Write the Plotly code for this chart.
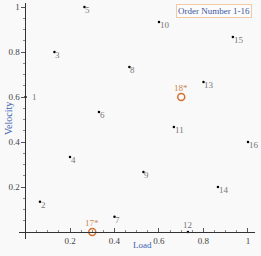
import plotly.graph_objects as go

order = ["1","2","3","4","5","6","7","8","9","10","11","12","13","14","15","16"]
load = [0.0, 0.065, 0.13, 0.2, 0.265, 0.33, 0.40, 0.467, 0.53, 0.60, 0.667, 0.73, 0.80, 0.865, 0.932, 1.0]
velocity = [0.6, 0.135, 0.80, 0.333, 1.0, 0.533, 0.068, 0.733, 0.267, 0.933, 0.467, 0.0, 0.667, 0.20, 0.867, 0.40]

extra_labels = ["17*", "18*"]
extra_load = [0.3, 0.7]
extra_velocity = [0.0, 0.6]

xticks = [0.2, 0.4, 0.6, 0.8, 1.0]
xticklabels = ["0.2", "0.4", "0.6", "0.8", "1"]
yticks = [0.2, 0.4, 0.6, 0.8, 1.0]
yticklabels = ["0.2", "0.4", "0.6", "0.8", "1"]

W, H = 261, 256
L, R, T, B = 19, 6, 3, 17
xr = [-0.0292, 1.0315]
yr = [-0.0311, 1.0178]
ypos = (0 - xr[0]) / (xr[1] - xr[0])
xpos = (0 - yr[0]) / (yr[1] - yr[0])

serif = "Liberation Serif"
fig = go.Figure()
fig.add_trace(go.Scatter(x=load, y=velocity, mode="markers",
                         marker=dict(color="black", size=2.5), showlegend=False, cliponaxis=False))
fig.add_trace(go.Scatter(x=extra_load, y=extra_velocity, mode="markers",
                         marker=dict(color="rgba(0,0,0,0)", size=7, line=dict(color="#d4702e", width=1.5)),
                         showlegend=False, cliponaxis=False))

lab_font = dict(family=serif, size=9, color="#777")
anns = []
for lab, x, y in zip(order, load, velocity):
    if lab == "12":
        anns.append(dict(x=x, y=y, text=lab, showarrow=False, xanchor="center", yanchor="bottom",
                         yshift=0, font=lab_font))
    elif lab == "1":
        anns.append(dict(x=x, y=y, text=lab, showarrow=False, xanchor="left", yanchor="middle",
                         xshift=4, font=lab_font))
    else:
        anns.append(dict(x=x, y=y, text=lab, showarrow=False, xanchor="left", yanchor="middle",
                         xshift=-1, yshift=-3, font=lab_font))
for lab, x, y in zip(extra_labels, extra_load, extra_velocity):
    anns.append(dict(x=x, y=y, text=lab, showarrow=False, xanchor="center", yanchor="bottom",
                     yshift=2, font=dict(family=serif, size=9, color="#c8864e")))
anns.append(dict(x=(252 - L) / (W - L - R), y=1 - (4 - T) / (H - T - B), xref="paper", yref="paper",
                 text="Order Number 1-16", showarrow=False,
                 xanchor="right", yanchor="top", bordercolor="#f2c9a4", borderwidth=1, borderpad=1,
                 bgcolor="#fcfcfc", font=dict(family=serif, size=9, color="#3a56a0")))
anns.append(dict(x=(142 - L) / (W - L - R), y=-(245 - (H - B)) / (H - T - B), xref="paper", yref="paper",
                 text="Load", showarrow=False, xanchor="center", yanchor="middle",
                 font=dict(family=serif, size=9, color="#3a5fb0")))
anns.append(dict(x=-(L - 8) / (W - L - R), y=(H - B - 119) / (H - T - B), xref="paper", yref="paper",
                 text="Velocity", showarrow=False, textangle=-90, xanchor="center", yanchor="middle",
                 font=dict(family=serif, size=10, color="#3a5fb0")))

axfont = dict(family=serif, size=9, color="#444")
fig.update_layout(
    width=W, height=H, margin=dict(l=L, r=R, t=T, b=B),
    paper_bgcolor="#f9f9f9", plot_bgcolor="#f9f9f9",
    annotations=anns,
    xaxis=dict(range=xr, anchor="free", position=xpos, showgrid=False, zeroline=False,
               showline=True, linecolor="#333", linewidth=1,
               tickvals=xticks, ticktext=xticklabels, ticks="inside", ticklen=4, tickcolor="#555",
               minor=dict(tickvals=[v / 20 for v in range(1, 21)], ticks="inside", ticklen=2, tickcolor="#888"),
               tickfont=axfont),
    yaxis=dict(range=yr, anchor="free", position=ypos, showgrid=False, zeroline=False,
               showline=True, linecolor="#333", linewidth=1,
               tickvals=yticks, ticktext=yticklabels, ticks="outside", ticklen=4, tickcolor="#555",
               minor=dict(tickvals=[v / 20 for v in range(1, 21)], ticks="outside", ticklen=2, tickcolor="#888"),
               tickfont=axfont),
)
fig.write_html("out.html")
